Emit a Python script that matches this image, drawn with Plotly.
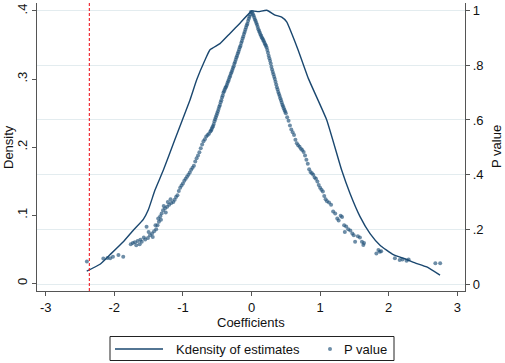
import plotly.graph_objects as go

# Kernel density of estimates
kd_x = [-2.402, -2.208, -2.063, -1.869, -1.723, -1.577, -1.504, -1.407, -1.286, -1.121,
        -0.898, -0.799, -0.678, -0.605, -0.460, -0.314, -0.168, 0.003, 0.099, 0.222,
        0.343, 0.440, 0.513, 0.586, 0.682, 0.828, 1.096, 1.315, 1.436, 1.582,
        1.728, 1.873, 2.067, 2.262, 2.383, 2.554, 2.748]
kd_y = [0.018, 0.028, 0.042, 0.061, 0.078, 0.094, 0.108, 0.137, 0.166, 0.210,
        0.269, 0.299, 0.328, 0.343, 0.352, 0.367, 0.382, 0.400, 0.399, 0.401,
        0.394, 0.391, 0.384, 0.367, 0.342, 0.301, 0.240, 0.166, 0.132, 0.098,
        0.073, 0.056, 0.042, 0.035, 0.030, 0.024, 0.012]

# P values of estimates
left_pts = [(-0.01, 0.995), (-0.02, 0.985), (-0.03, 0.978), (-0.04, 0.970), (-0.05, 0.962),
            (-0.06, 0.952), (-0.07, 0.947), (-0.08, 0.938), (-0.09, 0.930), (-0.10, 0.922),
            (-0.11, 0.915), (-0.12, 0.905), (-0.13, 0.898), (-0.14, 0.889), (-0.15, 0.882),
            (-0.16, 0.872), (-0.17, 0.866), (-0.18, 0.858), (-0.19, 0.850), (-0.20, 0.843),
            (-0.21, 0.835), (-0.22, 0.829), (-0.23, 0.820), (-0.24, 0.812), (-0.25, 0.806),
            (-0.26, 0.797), (-0.27, 0.790), (-0.28, 0.783), (-0.29, 0.776), (-0.30, 0.770),
            (-0.31, 0.762), (-0.32, 0.756), (-0.33, 0.748), (-0.34, 0.742), (-0.35, 0.735),
            (-0.36, 0.728), (-0.37, 0.722), (-0.38, 0.718), (-0.39, 0.712), (-0.40, 0.705),
            (-0.41, 0.700), (-0.42, 0.690), (-0.43, 0.682), (-0.44, 0.672), (-0.45, 0.665),
            (-0.46, 0.655), (-0.47, 0.648), (-0.48, 0.640), (-0.49, 0.632), (-0.50, 0.625),
            (-0.51, 0.617), (-0.52, 0.610), (-0.53, 0.603), (-0.54, 0.595), (-0.55, 0.585),
            (-0.56, 0.578), (-0.57, 0.573), (-0.58, 0.567), (-0.59, 0.562), (-0.60, 0.558),
            (-0.62, 0.550), (-0.64, 0.545), (-0.66, 0.540), (-0.68, 0.530), (-0.70, 0.522),
            (-0.72, 0.510), (-0.74, 0.497), (-0.76, 0.482), (-0.78, 0.470), (-0.80, 0.460),
            (-0.82, 0.448), (-0.84, 0.433), (-0.86, 0.425), (-0.88, 0.418), (-0.90, 0.408),
            (-0.92, 0.400), (-0.94, 0.392), (-0.96, 0.385), (-0.98, 0.378), (-1.00, 0.368),
            (-1.02, 0.360), (-1.04, 0.352), (-1.06, 0.340), (-1.08, 0.325), (-1.10, 0.318),
            (-1.12, 0.308), (-1.14, 0.300), (-1.17, 0.296), (-1.20, 0.290), (-1.23, 0.283),
            (-1.26, 0.277), (-1.29, 0.270), (-1.31, 0.258), (-1.33, 0.248), (-1.35, 0.228),
            (-1.37, 0.215), (-1.39, 0.200), (-1.42, 0.193), (-1.45, 0.185), (-1.48, 0.178),
            (-1.51, 0.168), (-1.53, 0.209), (-1.55, 0.163), (-1.60, 0.155), (-1.63, 0.145),
            (-1.66, 0.157), (-1.70, 0.153), (-1.73, 0.150), (-1.76, 0.145), (-1.87, 0.100),
            (-1.94, 0.106), (-2.02, 0.100), (-2.06, 0.094), (-2.10, 0.095), (-2.16, 0.093),
            (-2.40, 0.082), (-1.25, 0.262), (-1.28, 0.285), (-1.22, 0.300), (-1.18, 0.310),
            (-1.32, 0.235), (-1.36, 0.240), (-1.40, 0.215), (-1.44, 0.172), (-1.50, 0.190),
            (-1.57, 0.170), (-1.62, 0.162), (-1.68, 0.142)]
right_pts = [(0.01, 0.995), (0.02, 0.988), (0.03, 0.982), (0.04, 0.975), (0.05, 0.968),
             (0.06, 0.962), (0.07, 0.955), (0.08, 0.948), (0.09, 0.940), (0.10, 0.932),
             (0.11, 0.926), (0.12, 0.920), (0.13, 0.913), (0.14, 0.908), (0.15, 0.902),
             (0.16, 0.898), (0.17, 0.893), (0.18, 0.888), (0.19, 0.882), (0.20, 0.876),
             (0.21, 0.872), (0.22, 0.865), (0.23, 0.856), (0.24, 0.846), (0.25, 0.835),
             (0.26, 0.826), (0.27, 0.817), (0.28, 0.807), (0.29, 0.795), (0.30, 0.785),
             (0.31, 0.776), (0.32, 0.767), (0.33, 0.758), (0.34, 0.750), (0.35, 0.740),
             (0.36, 0.730), (0.37, 0.720), (0.38, 0.712), (0.39, 0.702), (0.40, 0.695),
             (0.41, 0.688), (0.42, 0.680), (0.43, 0.672), (0.44, 0.664), (0.45, 0.656),
             (0.46, 0.650), (0.47, 0.643), (0.48, 0.637), (0.49, 0.631), (0.50, 0.625),
             (0.52, 0.610), (0.54, 0.597), (0.56, 0.580), (0.58, 0.565), (0.60, 0.555),
             (0.62, 0.545), (0.64, 0.528), (0.66, 0.515), (0.68, 0.508), (0.70, 0.502),
             (0.72, 0.495), (0.74, 0.490), (0.76, 0.483), (0.78, 0.470), (0.80, 0.455),
             (0.82, 0.440), (0.84, 0.420), (0.86, 0.410), (0.88, 0.405), (0.90, 0.400),
             (0.92, 0.390), (0.94, 0.385), (0.96, 0.375), (0.98, 0.362), (1.00, 0.352),
             (1.02, 0.345), (1.04, 0.338), (1.06, 0.322), (1.08, 0.310), (1.10, 0.303),
             (1.13, 0.298), (1.16, 0.290), (1.19, 0.265), (1.22, 0.258), (1.25, 0.240),
             (1.27, 0.232), (1.30, 0.250), (1.32, 0.245), (1.35, 0.215), (1.38, 0.210),
             (1.36, 0.190), (1.41, 0.200), (1.44, 0.196), (1.47, 0.185), (1.49, 0.178),
             (1.51, 0.155), (1.55, 0.175), (1.58, 0.170), (1.61, 0.155), (1.63, 0.143),
             (1.64, 0.150), (1.82, 0.112), (1.85, 0.124), (1.87, 0.118), (1.89, 0.120),
             (2.09, 0.094), (2.16, 0.088), (2.20, 0.090), (2.26, 0.085), (2.29, 0.090),
             (2.68, 0.076), (2.75, 0.076)]
pv_x = [p[0] for p in left_pts + right_pts]
pv_y = [p[1] for p in left_pts + right_pts]

ref_line_x = -2.364

x_ticks = [-3, -2, -1, 0, 1, 2, 3]
x_labels = ["-3", "-2", "-1", "0", "1", "2", "3"]
y_ticks = [0, 0.1, 0.2, 0.3, 0.4]
y_labels = ["0", ".1", ".2", ".3", ".4"]
y2_ticks = [0, 0.2, 0.4, 0.6, 0.8, 1]
y2_labels = ["0", ".2", ".4", ".6", ".8", "1"]
legend_names = ["Kdensity of estimates", "P value"]

NAVY = "#1a476f"
DOT = "rgba(30,80,120,0.65)"
AXC = "#555555"
FONT = "Liberation Sans, Arial, sans-serif"
L, R, T, B = 37, 40, 3, 72
W, H = 505, 363
PW = W - L - R
PH = H - T - B


def px(x):
    return (x - L) / PW


def py(y):
    return (T + PH - y) / PH


fig = go.Figure()
fig.add_trace(go.Scatter(x=kd_x, y=kd_y, mode="lines", name=legend_names[0],
                         line=dict(color=NAVY, width=1.4, shape="spline", smoothing=0.4),
                         yaxis="y", showlegend=False))
fig.add_trace(go.Scatter(x=pv_x, y=pv_y, mode="markers", name=legend_names[1],
                         marker=dict(color=DOT, size=4, line=dict(width=0)),
                         yaxis="y2", showlegend=False))

fig.add_vline(x=ref_line_x, line=dict(color="#ee1c25", width=1.1, dash="3px,2px"))

# legend box (Stata style)
LY = 349
fig.add_shape(type="rect", xref="paper", yref="paper", x0=px(110), x1=px(394),
              y0=py(360.5), y1=py(336.5), line=dict(color="#222", width=1),
              fillcolor="white", layer="above")
fig.add_shape(type="line", xref="paper", yref="paper", x0=px(115), x1=px(163),
              y0=py(LY), y1=py(LY), line=dict(color=NAVY, width=1.4))
fig.add_shape(type="circle", xref="paper", yref="paper", x0=px(328), x1=px(332),
              y0=py(LY + 2), y1=py(LY - 2), line=dict(width=0), fillcolor=DOT)

tickfont = dict(size=13, color="#111")
fig.update_layout(
    width=W, height=H,
    margin=dict(l=L, r=R, t=T, b=B),
    paper_bgcolor="white", plot_bgcolor="white",
    font=dict(family=FONT, size=13, color="#111"),
    showlegend=False,
    xaxis=dict(range=[-3.127, 3.112], tickvals=x_ticks, ticktext=x_labels, ticks="outside",
               ticklen=4, tickcolor=AXC, showline=True, linecolor=AXC, linewidth=1.2,
               showgrid=False, zeroline=False, automargin=False, tickfont=tickfont),
    yaxis=dict(range=[-0.0113, 0.4117], tickvals=y_ticks, ticktext=y_labels,
               ticks="outside", ticklen=4, tickcolor=AXC, showline=True, linecolor=AXC,
               linewidth=1.2, showgrid=False, zeroline=False, tickangle=-90,
               automargin=False, tickfont=tickfont),
    yaxis2=dict(range=[-0.0256, 1.028], tickvals=y2_ticks, ticktext=y2_labels,
                overlaying="y", side="right", ticks="outside", ticklen=4, tickcolor=AXC,
                showline=True, linecolor=AXC, linewidth=1.2, showgrid=True,
                gridcolor="#e3ecef", gridwidth=1, zeroline=False, automargin=False,
                tickfont=tickfont),
    annotations=[
        dict(text="Coefficients", xref="paper", yref="paper", x=0.5, y=py(322),
             xanchor="center", yanchor="middle", showarrow=False, font=dict(size=13)),
        dict(text="Density", xref="paper", yref="paper", x=px(8), y=0.5,
             xanchor="center", yanchor="middle", textangle=-90, showarrow=False,
             font=dict(size=13)),
        dict(text="P value", xref="paper", yref="paper", x=px(496), y=0.5,
             xanchor="center", yanchor="middle", textangle=-90, showarrow=False,
             font=dict(size=13)),
        dict(text=legend_names[0], xref="paper", yref="paper", x=px(174), y=py(LY),
             xanchor="left", yanchor="middle", showarrow=False, font=dict(size=13)),
        dict(text=legend_names[1], xref="paper", yref="paper", x=px(342), y=py(LY),
             xanchor="left", yanchor="middle", showarrow=False, font=dict(size=13)),
    ],
)

fig.write_html("out.html", config={"displayModeBar": False},
               post_script="document.body.style.margin='0';document.body.style.padding='0';")
